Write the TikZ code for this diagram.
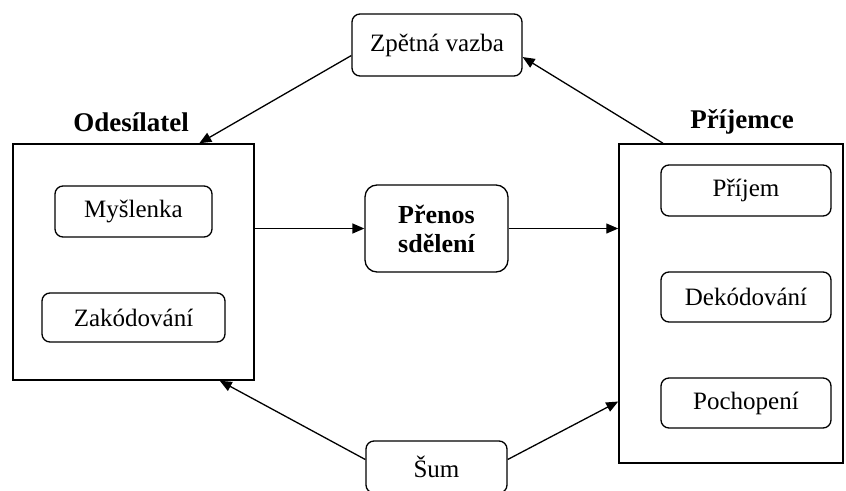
\documentclass[tikz,border=0pt]{standalone}
\usepackage{fontspec}
\setmainfont{Liberation Serif}
\usetikzlibrary{arrows.meta, positioning}

\begin{document}
\begin{tikzpicture}[x=1pt, y=-1pt,
    font=\fontsize{25}{29}\selectfont,
    line width=1.3pt,
    >={Triangle[length=12pt,width=10pt]},
    stage/.style={draw, rectangle, rounded corners=8pt, inner sep=0pt},
    party/.style={draw, rectangle, inner sep=0pt, line width=1.5pt},
    title/.style={font=\fontsize{27}{31}\selectfont\bfseries}]
  \useasboundingbox (0,0) rectangle (846,490);
  % parties
  \node[party, minimum width=241, minimum height=236] (sender) at (133.5,262) {};
  \node[party, minimum width=224, minimum height=319] (receiver) at (731,303.5) {};
  \node[title] (sendertitle) at (131,122) {Odesílatel};
  \node[title] (receivertitle) at (742,122) {Příjemce};
  % stages
  \node[stage, minimum width=157, minimum height=51] (thought) at (133.5,211.5) {Myšlenka};
  \node[stage, minimum width=183, minimum height=49] (encode) at (133.5,317.5) {Zakódování};
  \node[stage, minimum width=170, minimum height=51] (receipt) at (746,190.5) {Příjem};
  \node[stage, minimum width=170, minimum height=50] (decode) at (746,297) {Dekódování};
  \node[stage, minimum width=170, minimum height=50] (understand) at (746,403) {Pochopení};
  \node[stage, minimum width=170, minimum height=62] (feedback) at (437,45) {Zpětná vazba};
  \node[stage, minimum width=141, minimum height=52] (noise) at (436.5,467) {Šum};
  \node[stage, rounded corners=12pt, minimum width=143, minimum height=87,
        align=center, font=\fontsize{26}{29}\selectfont\bfseries] (message) at (436.5,228.5) {Přenos\\sdělení};
  % arrows
  \draw[->] (message.west -| sender.east) -- (message.west);
  \draw[->] (message.east) -- (message.east -| receiver.west);
  \draw[->] (feedback.187) -- (sender.61);
  \draw[->] (receiver.113) -- (feedback.352);
  \draw[->] (noise.174) -- (sender.306);
  \draw[->] (noise.6) -- (receiver.221);
\end{tikzpicture}
\end{document}
